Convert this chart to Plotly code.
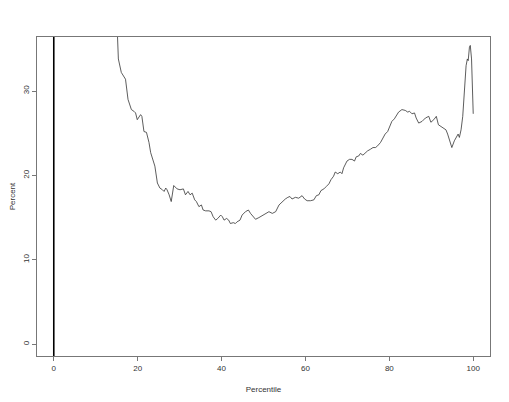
import plotly.graph_objects as go

# Percentile curve, values
percentile = [
    13.0, 14.6, 15.2, 15.4, 16.1, 16.7, 17.1, 17.7, 18.5, 19.1, 19.5, 19.9,
    20.7, 21.0, 21.5, 22.1, 22.7, 23.1, 23.7, 24.1, 24.7, 25.3, 25.9, 26.3,
    26.7, 27.0, 27.5, 28.0, 28.6, 29.4, 30.1, 30.9, 31.4, 32.0, 32.5, 33.0,
    33.6, 34.0, 34.6, 35.2, 35.6, 36.2, 37.0, 37.5, 38.0, 38.6, 39.1, 39.8,
    40.2, 40.6, 41.2, 41.7, 42.1, 42.8, 43.3, 43.7, 44.4, 44.9, 45.7, 46.4,
    46.9, 47.5, 48.1, 48.9, 49.7, 50.5, 51.3, 52.1, 52.9, 53.7, 54.5, 55.2,
    55.8, 56.3, 56.8, 57.6, 58.4, 59.2, 59.8, 60.4, 61.2, 62.0, 62.6, 63.2,
    63.7, 64.4, 65.0, 65.6, 66.1, 66.7, 67.1, 67.7, 68.3, 68.7, 69.1, 69.5,
    69.9, 70.5, 71.1, 71.7, 72.1, 72.7, 73.1, 73.7, 74.3, 74.8, 75.5, 76.1,
    76.7, 77.2, 77.9, 78.5, 79.0, 79.6, 80.1, 80.6, 81.2, 81.7, 82.2, 83.0,
    83.8, 84.4, 84.8, 85.4, 86.0, 86.4, 87.0, 87.8, 88.6, 89.4, 89.9, 90.6,
    91.2, 91.7, 92.3, 92.9, 93.5, 93.9, 94.4, 94.9, 95.5, 96.0, 96.4, 96.7,
    97.1, 97.5, 97.9, 98.3, 98.6, 98.8, 99.1, 99.3, 99.6, 99.8, 100.0,
]
percent = [
    60.0, 40.0, 36.4, 33.8, 32.2, 31.8, 31.4, 29.0, 27.8, 27.6, 27.4, 26.6,
    27.2, 27.0, 25.2, 25.1, 23.9, 22.7, 21.7, 21.1, 19.1, 18.5, 18.3, 18.1,
    18.5, 18.3, 17.7, 16.9, 18.8, 18.4, 18.3, 18.4, 17.7, 18.1, 17.7, 17.9,
    17.1, 16.9, 16.3, 16.5, 15.9, 15.8, 15.8, 15.7, 15.1, 14.7, 14.9, 15.3,
    15.1, 14.7, 14.9, 14.7, 14.3, 14.4, 14.3, 14.5, 14.7, 15.3, 15.7, 15.9,
    15.5, 15.1, 14.8, 15.0, 15.2, 15.5, 15.7, 15.5, 15.7, 16.5, 16.9, 17.2,
    17.4, 17.5, 17.2, 17.4, 17.3, 17.6, 17.2, 17.0, 17.0, 17.1, 17.6, 17.7,
    18.2, 18.4, 18.7, 19.0, 19.5, 19.9, 20.4, 20.2, 20.4, 20.2, 20.9, 21.3,
    21.7, 21.9, 21.9, 21.7, 22.2, 22.3, 22.6, 22.4, 22.7, 22.9, 23.1, 23.3,
    23.3, 23.5, 23.9, 24.5, 24.9, 25.2, 25.8, 26.4, 26.7, 27.1, 27.5, 27.8,
    27.7, 27.5, 27.6, 27.3, 27.4, 26.8, 26.2, 26.4, 26.8, 27.0, 26.3, 26.6,
    27.0, 26.0, 25.8, 25.6, 25.4, 24.9, 24.1, 23.3, 24.1, 24.5, 24.9, 24.5,
    25.4, 27.0, 30.2, 33.0, 33.8, 33.6, 35.2, 35.4, 33.8, 30.2, 27.3,
]

x_ticks = [0, 20, 40, 60, 80, 100]
y_ticks = [0, 10, 20, 30]

fig = go.Figure()
fig.add_trace(go.Scatter(x=percentile, y=percent, mode="lines",
                         line=dict(color="#333333", width=0.8),
                         showlegend=False, hoverinfo="skip"))

# reference line at 0
fig.add_vline(x=0, line=dict(color="black", width=1.6))

axis_style = dict(showgrid=False, zeroline=False, showline=True, mirror=True,
                  linecolor="#777777", linewidth=1, ticks="outside",
                  ticklen=4, tickcolor="#777777", tickwidth=1,
                  tickfont=dict(size=8, color="#333333"), automargin=False)

fig.update_xaxes(range=[-4, 104], tickvals=x_ticks,
                 title=dict(text="Percentile", font=dict(size=8, color="#333333"), standoff=14),
                 **axis_style)
fig.update_yaxes(range=[-1.4, 36.4], tickvals=y_ticks, tickangle=-90,
                 title=dict(text="Percent", font=dict(size=8, color="#333333"), standoff=12),
                 **axis_style)

# page body adds an 8px margin, so the figure is a bit smaller than the window
fig.update_layout(width=501, height=394,
                  margin=dict(l=29, r=19, t=29, b=46),
                  plot_bgcolor="white", paper_bgcolor="white",
                  font=dict(family="Liberation Sans, Arial, sans-serif"))

fig.write_html("out.html")
